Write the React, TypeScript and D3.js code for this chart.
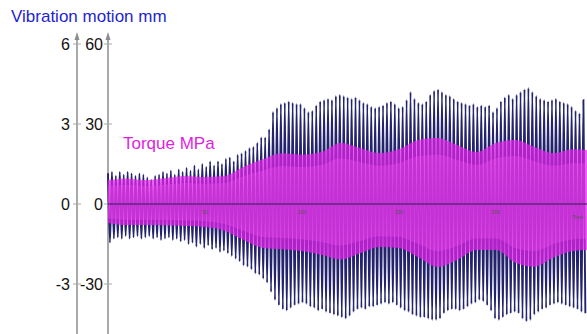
import React from "react";
import * as d3 from "d3";

// Vibration motion (mm): peak value of each cycle (upper) and trough (lower)
const vibUpper = [
  1.15, 1.2, 1.05, 1.2, 1.1, 1.2, 1.15, 1.05, 1.15, 1.1,
  1.0, 0.9, 1.05, 1.1, 1.2, 1.15, 1.25, 1.1, 1.3, 1.2,
  1.35, 1.25, 1.45, 1.3, 1.5, 1.4, 1.6, 1.45, 1.6, 1.5,
  1.7, 1.75, 1.6, 1.85, 1.9, 2.0, 2.1, 2.15, 2.3, 2.5,
  2.5, 2.8, 3.45, 3.6, 3.75, 3.8, 3.85, 3.8, 3.75, 3.75,
  3.6, 3.45, 3.5, 3.7, 3.85, 3.9, 3.95, 3.9, 4.05, 4.1,
  4.05, 4.0, 3.95, 4.0, 3.9, 3.8, 3.75, 3.65, 3.6, 3.65,
  3.7, 3.8, 3.85, 3.75, 3.6, 3.65, 3.9, 4.2, 3.95, 3.8,
  3.75, 3.85, 4.1, 4.25, 4.3, 4.2, 4.1, 4.05, 3.95, 3.85,
  3.8, 3.75, 3.7, 3.75, 3.65, 3.7, 3.65, 3.7, 3.45, 3.6,
  3.85, 4.0, 4.1, 3.95, 4.1, 4.2, 4.3, 4.35, 4.2, 4.05,
  3.95, 3.9, 3.85, 3.9, 3.95, 3.85, 3.8, 3.75, 3.65, 3.5,
  3.4, 3.9,
];
const vibLower = [
  -1.45, -1.3, -1.25, -1.3, -1.2, -1.3, -1.25, -1.2, -1.3, -1.25,
  -1.2, -1.3, -1.25, -1.35, -1.3, -1.25, -1.35, -1.3, -1.4, -1.35,
  -1.5, -1.45, -1.6, -1.5, -1.65, -1.55, -1.7, -1.65, -1.8, -1.75,
  -1.85, -1.95, -2.05, -2.15, -2.3, -2.35, -2.45, -2.6, -2.65, -2.8,
  -2.95, -3.3, -3.6, -3.8, -3.95, -4.0, -3.9, -3.8, -3.75, -3.7,
  -3.75, -3.85, -3.9, -4.0, -3.95, -4.05, -4.1, -4.15, -4.2, -4.25,
  -4.3, -4.2, -4.05, -3.95, -3.9, -3.95, -3.85, -3.85, -3.8, -3.75,
  -3.7, -3.75, -3.7, -3.8, -3.9, -4.0, -4.05, -4.15, -4.2, -4.25,
  -4.25, -4.3, -4.35, -4.35, -4.3, -4.1, -4.0, -3.95, -3.95, -4.0,
  -3.95, -3.85, -3.75, -3.7, -3.6, -3.65, -3.8, -4.0, -4.3, -4.35,
  -4.25, -4.15, -4.1, -4.05, -4.1, -4.3, -4.4, -4.35, -4.15, -4.05,
  -3.95, -3.9, -3.8, -3.75, -3.7, -3.75, -3.8, -3.85, -3.9, -3.95,
  -4.05, -4.1,
];

// Torque (MPa): envelope of the dense torque trace
const torqueTime = [0, 10, 20, 30, 40, 50, 60, 70, 80, 90, 100, 110, 120, 130, 140, 150, 160, 170, 180, 190, 200, 210, 220, 230, 240, 247];
const torqueUpper = [9, 9.5, 9.0, 9.75, 10.5, 10.1, 10.5, 14.0, 16.8, 19.0, 18.5, 19.5, 22.9, 21.0, 19.1, 20.5, 24.0, 24.75, 22.1, 19.5, 22.9, 24.0, 21.4, 19.1, 20.5, 20.25];
const torqueLower = [-7.1, -7.9, -7.9, -8.0, -8.25, -8.6, -10.0, -13.5, -16.5, -17.0, -17.6, -19.0, -20.8, -18.5, -16.1, -16.5, -20.0, -23.6, -21.0, -17.25, -17.25, -22.0, -23.5, -20.0, -17.6, -17.25];

const vibTicks = [6, 3, 0, -3];
const torqueTicks = [60, 30, 0, -30];
const timeTicks = [50, 100, 150, 200];

const CYCLE = 2.026; // time units per vibration cycle

export default function App() {
  const W = 587;
  const H = 334;
  const x = d3.scaleLinear().domain([0, 247]).range([108, 587]);
  const yV = d3.scaleLinear().domain([0, 6]).range([204, 44]);
  const yT = d3.scaleLinear().domain([0, 60]).range([204, 44]);

  const pts: [number, number][] = [];
  vibUpper.forEach((u, i) => {
    pts.push([i * CYCLE, u]);
    pts.push([(i + 0.5) * CYCLE, vibLower[i]]);
  });
  const vibLine = d3
    .line<[number, number]>()
    .x((d) => x(d[0]))
    .y((d) => yV(d[1]))
    .curve(d3.curveMonotoneX)(pts) as string;

  const areaGen = (scale: number) =>
    d3
      .area<number>()
      .x((_, i) => x(torqueTime[i]))
      .y0((_, i) => yT(torqueLower[i] * scale))
      .y1((d) => yT(d * scale))
      .curve(d3.curveMonotoneX)(torqueUpper) as string;

  const axisColor = "#8c8c8c";
  const axV = 77;
  const axT = 108;

  return (
    <svg
      width={W}
      height={H}
      style={{ position: "absolute", left: 0, top: 0, background: "#fff" }}
      fontFamily="Arial, 'Liberation Sans', sans-serif"
    >
      <rect x={0} y={0} width={W} height={H} fill="#fff" />
      <text x={11} y={22} fontSize={17} fill="#1f1fd2">
        Vibration motion mm
      </text>

      {/* axes */}
      {[axV, axT].map((ax) => (
        <g key={ax}>
          <line x1={ax} x2={ax} y1={36} y2={334} stroke={axisColor} strokeWidth={1.5} />
          <path d={`M${ax - 2.5},${40} L${ax},${32} L${ax + 2.5},${40} Z`} fill={axisColor} />
        </g>
      ))}
      {vibTicks.map((t) => (
        <g key={"v" + t}>
          <line x1={axV - 4} x2={axV + 4} y1={yV(t)} y2={yV(t)} stroke="#aaa" strokeWidth={1} />
          <text x={70} y={yV(t)} dy="0.36em" textAnchor="end" fontSize={16} fill="#111">
            {t}
          </text>
        </g>
      ))}
      {torqueTicks.map((t) => (
        <g key={"t" + t}>
          <line x1={axT - 4} x2={axT + 4} y1={yT(t)} y2={yT(t)} stroke="#aaa" strokeWidth={1} />
          <text x={103} y={yT(t)} dy="0.36em" textAnchor="end" fontSize={16} fill="#111">
            {t}
          </text>
        </g>
      ))}

      {/* vibration trace */}
      <path d={vibLine} fill="none" stroke="#23236e" strokeWidth={1.9} />
      {/* torque band */}
      <path d={areaGen(1)} fill="#e824ee" fillOpacity={0.7} />
      <path d={areaGen(0.75)} fill="#f050f2" fillOpacity={0.35} />

      {/* zero line */}
      <line x1={axT} x2={W} y1={yV(0)} y2={yV(0)} stroke="#2a1f55" strokeWidth={1} />
      {timeTicks.map((t) => (
        <text key={t} x={x(t)} y={214} fontSize={5} fill="#555" textAnchor="middle">
          {t}
        </text>
      ))}
      <text x={572} y={219} fontSize={5} fill="#555">
        Time
      </text>

      <text x={123} y={149} fontSize={17} fill="#e01ee0">
        Torque MPa
      </text>
    </svg>
  );
}
